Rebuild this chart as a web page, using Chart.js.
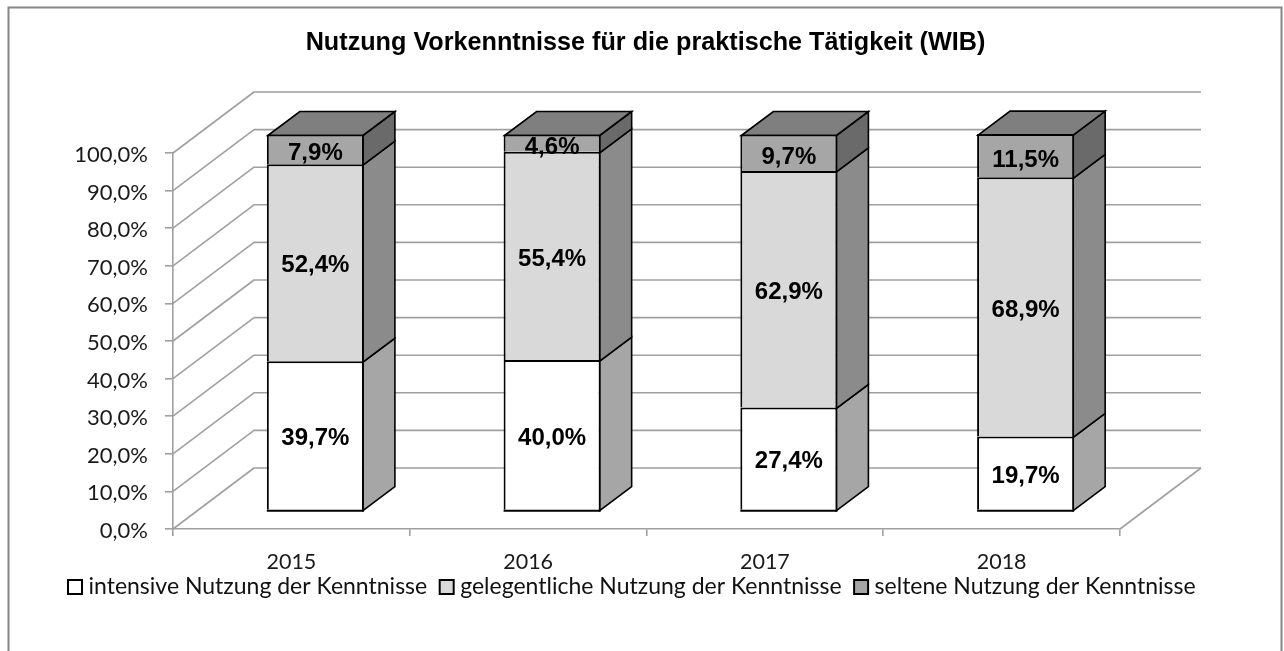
<!DOCTYPE html>
<html>
<head>
<meta charset="utf-8">
<style>html,body{margin:0;padding:0;background:#fff}canvas{display:block}</style>
<script src="https://cdn.jsdelivr.net/npm/chart.js@4"></script>
</head>
<body>
<div style="width:1284px;height:651px"><canvas id="c" width="1284" height="651"></canvas></div>
<script>
const titleText = 'Nutzung Vorkenntnisse für die praktische Tätigkeit (WIB)';
const categories = ['2015', '2016', '2017', '2018'];
const seriesNames = ['intensive Nutzung der Kenntnisse', 'gelegentliche Nutzung der Kenntnisse', 'seltene Nutzung der Kenntnisse'];
const intensive = [39.7, 40.0, 27.4, 19.7];
const gelegentlich = [52.4, 55.4, 62.9, 68.9];
const selten = [7.9, 4.6, 9.7, 11.5];

const fmt = v => v.toFixed(1).replace('.', ',') + '%';
const wall = {dx: 81, dy: -61};
const barShift = {dx: 24, dy: -18.5};
const barDepth = {dx: 32, dy: -24};
const inset = 1;
const gridCol = '#a0a0a0';
const faces = [
  {front: '#ffffff', side: '#a6a6a6'},
  {front: '#d9d9d9', side: '#8b8b8b'},
  {front: '#a6a6a6', side: '#6a6a6a', top: '#7f7f7f'}
];

const threeD = {
  id: 'threeD',
  beforeDraw(chart) {
    const c = chart.ctx;
    c.save();
    c.strokeStyle = '#868686';
    c.lineWidth = 2;
    c.beginPath();
    c.moveTo(8.5, 660); c.lineTo(8.5, 7.5); c.lineTo(1281.5, 7.5); c.lineTo(1281.5, 660);
    c.stroke();
    c.restore();
  },
  beforeDatasetsDraw(chart) {
    const c = chart.ctx, y = chart.scales.y, x = chart.scales.x;
    c.save();
    c.strokeStyle = gridCol; c.lineWidth = 1.6; c.lineJoin = 'round';
    y.ticks.forEach(t => {
      const py = y.getPixelForValue(t.value);
      c.beginPath();
      c.moveTo(x.left, py);
      c.lineTo(x.left + wall.dx, py + wall.dy);
      c.lineTo(x.right + wall.dx, py + wall.dy);
      c.stroke();
    });
    const py0 = y.getPixelForValue(0);
    c.beginPath();
    c.moveTo(x.right, py0);
    c.lineTo(x.right + wall.dx, py0 + wall.dy);
    c.stroke();
    c.strokeStyle = '#000'; c.lineWidth = 1.6; c.lineJoin = 'miter';
    chart.data.datasets.forEach((ds, i) => {
      chart.getDatasetMeta(i).data.forEach(b => {
        const r = b.x + b.width / 2 + barShift.dx - inset, l = b.x - b.width / 2 + barShift.dx + inset;
        const t = b.y + barShift.dy + inset, bt = b.base + barShift.dy + inset;
        c.fillStyle = faces[i].side;
        c.beginPath();
        c.moveTo(r, t); c.lineTo(r + barDepth.dx, t + barDepth.dy);
        c.lineTo(r + barDepth.dx, bt + barDepth.dy); c.lineTo(r, bt);
        c.closePath(); c.fill(); c.stroke();
        if (faces[i].top) {
          c.fillStyle = faces[i].top;
          c.beginPath();
          c.moveTo(l, t); c.lineTo(l + barDepth.dx, t + barDepth.dy);
          c.lineTo(r + barDepth.dx, t + barDepth.dy); c.lineTo(r, t);
          c.closePath(); c.fill(); c.stroke();
        }
      });
    });
    c.restore();
    c.save();
    c.translate(barShift.dx, barShift.dy);
  },
  afterDatasetsDraw(chart) {
    const c = chart.ctx;
    c.strokeStyle = '#000'; c.lineWidth = 2;
    chart.getDatasetMeta(0).data.forEach(b => {
      c.beginPath();
      c.moveTo(b.x - b.width / 2, b.base + inset); c.lineTo(b.x + b.width / 2, b.base + inset);
      c.stroke();
    });
    c.restore();
    c.save();
    c.font = 'bold 24px "Liberation Sans"';
    c.fillStyle = '#000'; c.textAlign = 'center'; c.textBaseline = 'middle';
    chart.data.datasets.forEach((ds, i) => {
      chart.getDatasetMeta(i).data.forEach((b, j) => {
        c.fillText(fmt(ds.data[j]), b.x + barShift.dx, (b.y + b.base) / 2 + barShift.dy + (i === 2 ? 4.5 : 3));
      });
    });
    c.restore();
  },
  afterLayout(chart) {
    const lg = chart.legend;
    const h = lg.bottom - lg.top, w = lg.right - lg.left;
    lg.left = 55.5; lg.right = lg.left + w;
    lg.top = 558; lg.bottom = lg.top + h;
  }
};

const makeDs = (i, data) => ({
  label: seriesNames[i], data,
  backgroundColor: faces[i].front, borderColor: '#000', borderWidth: 2,
  borderSkipped: 'start', inflateAmount: 0,
  barPercentage: 0.41, categoryPercentage: 1, clip: false
});

new Chart(document.getElementById('c'), {
  type: 'bar',
  data: {labels: categories, datasets: [makeDs(0, intensive), makeDs(1, gelegentlich), makeDs(2, selten)]},
  plugins: [threeD],
  options: {
    responsive: false, animation: false,
    layout: {padding: {left: 7, right: 0, top: 0, bottom: 24.5}},
    plugins: {
      tooltip: {enabled: false},
      title: {
        display: true, text: titleText, color: '#000',
        font: {family: '"Liberation Sans"', size: 25.2, weight: 'bold', lineHeight: 1},
        padding: {top: 30.4, bottom: 97.4}
      },
      legend: {
        position: 'bottom', align: 'start',
        labels: {
          usePointStyle: true, pointStyle: 'rect',
          boxWidth: 4, boxHeight: 14, padding: 17.5, color: '#111',
          font: {family: 'Lato', size: 23, lineHeight: 1}
        }
      }
    },
    scales: {
      x: {
        stacked: true,
        afterFit: s => { s.height = 47; },
        grid: {display: true, drawOnChartArea: false, drawTicks: true, tickLength: 7, color: gridCol, lineWidth: 1.6},
        border: {display: true, color: gridCol, width: 1.6},
        ticks: {font: {family: 'Lato', size: 21.5, lineHeight: 1}, color: '#1a1a1a', padding: 15, maxRotation: 0}
      },
      y: {
        stacked: true, min: 0, max: 100,
        afterFit: s => { s.width = 166; },
        grid: {display: true, drawOnChartArea: false, drawTicks: true, tickLength: 8, color: gridCol, lineWidth: 1.6},
        border: {display: true, color: gridCol, width: 1.6},
        ticks: {stepSize: 10, callback: v => fmt(v), font: {family: 'Lato', size: 22, lineHeight: 1}, color: '#1a1a1a', padding: 17, labelOffset: 2}
      },
      pad: {
        position: 'right', display: true, min: 0, max: 1,
        afterFit: s => { s.width = 164; },
        grid: {display: false}, border: {display: false}, ticks: {display: false}
      }
    }
  }
});
</script>
</body>
</html>
